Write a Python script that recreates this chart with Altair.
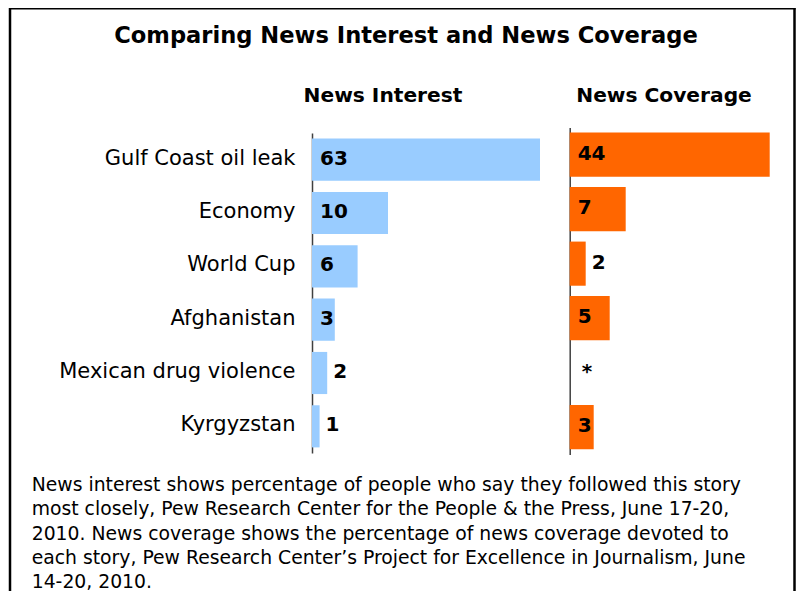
import altair as alt
import pandas as pd

# ---- data ----
stories = ["Gulf Coast oil leak", "Economy", "World Cup", "Afghanistan",
           "Mexican drug violence", "Kyrgyzstan"]
interest_values = [63, 10, 6, 3, 2, 1]
interest_labels = ["63", "10", "6", "3", "2", "1"]
coverage_values = [44, 7, 2, 5, 0, 3]
coverage_labels = ["44", "7", "2", "5", "*", "3"]
panel_headers = ["News Interest", "News Coverage"]
title_text = "Comparing News Interest and News Coverage"
footnote_lines = [
    "News interest shows percentage of people who say they followed this story",
    "most closely, Pew Research Center for the People & the Press, June 17-20,",
    "2010. News coverage shows the percentage of news coverage devoted to",
    "each story, Pew Research Center\u2019s Project for Excellence in Journalism, June",
    "14-20, 2010.",
]

FONT = "DejaVu Sans"
W, H = 788, 583
one = pd.DataFrame({"k": [0]})


def panel(values, labels, color, xmax, xrange, yrange, pin, pout, axis):
    df = pd.DataFrame({"story": stories, "value": values, "label": labels})
    xs = alt.Scale(domain=[0, xmax], range=xrange, clamp=True, nice=False, zero=True)
    y = alt.Y("story:N", sort=stories, title=None,
              scale=alt.Scale(domain=stories, range=yrange,
                              paddingInner=pin, paddingOuter=pout),
              axis=axis)
    base = alt.Chart(df)
    bars = base.mark_bar(color=color).encode(
        x=alt.X("value:Q", scale=xs, axis=None, title=None), y=y)
    txt = dict(baseline="middle", font=FONT, fontSize=20, fontWeight="bold",
               color="black", align="left")
    inside = base.transform_filter("datum.value >= 3").transform_calculate(
        zero="0").mark_text(dx=8, dy=-1, **txt).encode(
        x=alt.X("zero:Q", scale=xs, axis=None, title=None), y=y, text="label:N")
    outside = base.transform_filter("datum.value > 0 && datum.value < 3").mark_text(
        dx=6, dy=-1, **txt).encode(
        x=alt.X("value:Q", scale=xs, axis=None, title=None), y=y, text="label:N")
    star = base.transform_filter("datum.value == 0").mark_text(
        dx=12, dy=-1, **txt).encode(
        x=alt.X("value:Q", scale=xs, axis=None, title=None), y=y, text="label:N")
    return alt.layer(bars, inside, outside, star)


left_axis = alt.Axis(orient="left", offset=-304, ticks=False, domain=True,
                     domainColor="#404040", domainWidth=1.5, grid=False,
                     labelFont=FONT, labelFontSize=21, labelColor="black",
                     labelPadding=17, labelLimit=0, labelOffset=-1, title=None)
right_axis = alt.Axis(orient="left", offset=-561.7, ticks=False, domain=True,
                      domainColor="#404040", domainWidth=1.5, grid=False,
                      labels=False, title=None)

left = panel(interest_values, interest_labels, "#99CCFF", 30, [304, 532],
             [125, 445], 0.21, 0.105, left_axis)
right = panel(coverage_values, coverage_labels, "#FF6600", 25, [561.7, 761.7],
              [119.4, 446.4], 0.19, 0.095, right_axis)

frame_left = alt.Chart(one).mark_rule(color="black", strokeWidth=2.5).encode(
    x=alt.value(2), y=alt.value(0), y2=alt.value(H))
frame_right = alt.Chart(one).mark_rule(color="black", strokeWidth=2.5).encode(
    x=alt.value(786.5), y=alt.value(0), y2=alt.value(H))
frame_top = alt.Chart(one).mark_rule(color="black", strokeWidth=2).encode(
    x=alt.value(1), x2=alt.value(787.5), y=alt.value(0.5))

title = alt.Chart(one).mark_text(font=FONT, fontSize=22.6, fontWeight="bold",
                                 align="center", baseline="alphabetic",
                                 color="black").encode(
    x=alt.value(398), y=alt.value(34.5), text=alt.value(title_text))
head1 = alt.Chart(one).mark_text(font=FONT, fontSize=20.2, fontWeight="bold",
                                 align="center", baseline="alphabetic",
                                 color="black").encode(
    x=alt.value(375), y=alt.value(93.7), text=alt.value(panel_headers[0]))
head2 = alt.Chart(one).mark_text(font=FONT, fontSize=20.2, fontWeight="bold",
                                 align="center", baseline="alphabetic",
                                 color="black").encode(
    x=alt.value(656), y=alt.value(93.7), text=alt.value(panel_headers[1]))
foot = alt.Chart(one).mark_text(font=FONT, fontSize=18.8, align="left",
                                baseline="alphabetic", lineHeight=24.2,
                                color="black").encode(
    x=alt.value(23.7), y=alt.value(483.2), text=alt.value(footnote_lines))

chart = alt.layer(
    frame_left, frame_right, frame_top, title, head1, head2, left, right, foot
).resolve_scale(x="independent", y="independent").properties(
    width=W, height=H, autosize="none", padding=0
).configure_view(strokeWidth=0)

chart.save("out.html", embed_options={"renderer": "svg", "actions": False})
